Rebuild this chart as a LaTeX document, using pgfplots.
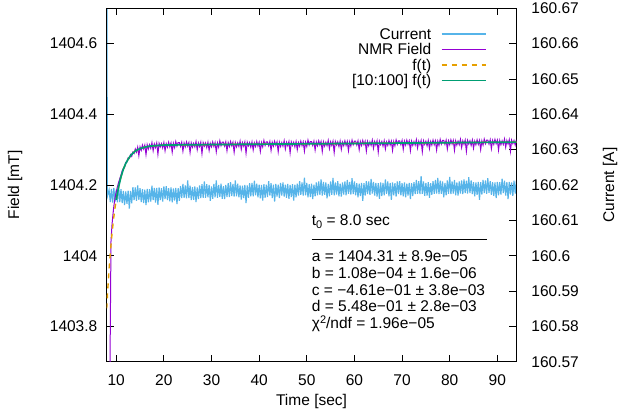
\documentclass[border=0pt]{standalone}
\usepackage{fontspec}
\setmainfont{Liberation Sans}
\usepackage{pgfplots}
\pgfplotsset{compat=1.18}

\definecolor{cur}{HTML}{56B4E9}
\definecolor{nmr}{HTML}{9400D3}
\definecolor{fitA}{HTML}{E69F00}
\definecolor{fitB}{HTML}{009E73}

\newcommand{\fs}{\fontsize{15.5}{18}\selectfont}

\pgfplotsset{
  common/.style={
    scale only axis, width=409.7pt, height=353.4pt,
    at={(106.7pt,52.3pt)}, anchor=south west,
    xmin=8, xmax=94,
    scaled x ticks=false, scaled y ticks=false,
    tick align=inside, major tick length=7pt,
    every tick/.style={black, line width=0.9pt},
    axis line style={line width=0.9pt, black},
    tick label style={font=\fs, inner sep=0pt, outer sep=0pt},
    label style={font=\fs, inner sep=0pt},
    /pgf/number format/assume math mode=true,
    /pgf/number format/1000 sep={},
  }
}

\begin{document}
\begin{tikzpicture}
% ---------- Current (right axis) ----------
\begin{axis}[common,
  hide x axis, axis y line*=right,
  y axis line style={-},
  ymin=160.57, ymax=160.67,
  y coord trafo/.code={\edef\pgfmathresult{\fpeval{#1-160.6}}},
  ytick={160.57,160.58,160.59,160.6,160.61,160.62,160.63,160.64,160.65,160.66,160.67},
  yticklabels={160.57,160.58,160.59,160.6,160.61,160.62,160.63,160.64,160.65,160.66,160.67},
  yticklabel style={anchor=west, xshift=15pt},
  ylabel={Current [A]},
  ylabel style={at={(axis description cs:1.2285,0.5)}, anchor=center},
]
\addplot[cur, line width=1.15pt] table {
t I
8.0 160.7000
8.15 160.6168
8.5 160.6186
8.75 160.6152
9.0 160.6189
9.25 160.6150
9.5 160.6192
9.75 160.6153
10.0 160.6187
10.25 160.6151
10.5 160.6197
10.75 160.6152
11.0 160.6188
11.25 160.6149
11.5 160.6183
11.75 160.6143
12.0 160.6182
12.25 160.6147
12.5 160.6184
12.75 160.6133
13.0 160.6183
13.25 160.6148
13.5 160.6194
13.75 160.6157
14.0 160.6193
14.25 160.6155
14.5 160.6199
14.75 160.6158
15.0 160.6191
15.25 160.6152
15.5 160.6188
15.75 160.6149
16.0 160.6187
16.25 160.6143
16.5 160.6189
16.75 160.6151
17.0 160.6188
17.25 160.6153
17.5 160.6198
17.75 160.6157
18.0 160.6192
18.25 160.6150
18.5 160.6192
18.75 160.6144
19.0 160.6193
19.25 160.6157
19.5 160.6191
19.75 160.6153
20.0 160.6196
20.25 160.6160
20.5 160.6197
20.75 160.6157
21.0 160.6191
21.25 160.6154
21.5 160.6193
21.75 160.6151
22.0 160.6190
22.25 160.6156
22.5 160.6192
22.75 160.6146
23.0 160.6191
23.25 160.6155
23.5 160.6197
23.75 160.6163
24.0 160.6203
24.25 160.6164
24.5 160.6199
24.75 160.6162
25.0 160.6213
25.25 160.6163
25.5 160.6198
25.75 160.6157
26.0 160.6194
26.25 160.6158
26.5 160.6196
26.75 160.6152
27.0 160.6193
27.25 160.6160
27.5 160.6199
27.75 160.6163
28.0 160.6202
28.25 160.6164
28.5 160.6210
28.75 160.6164
29.0 160.6202
29.25 160.6165
29.5 160.6200
29.75 160.6155
30.0 160.6196
30.25 160.6161
30.5 160.6203
30.75 160.6165
31.0 160.6213
31.25 160.6164
31.5 160.6200
31.75 160.6166
32.0 160.6204
32.25 160.6161
32.5 160.6197
32.75 160.6160
33.0 160.6200
33.25 160.6166
33.5 160.6205
33.75 160.6166
34.0 160.6208
34.25 160.6169
34.5 160.6203
34.75 160.6167
35.0 160.6213
35.25 160.6168
35.5 160.6204
35.75 160.6165
36.0 160.6199
36.25 160.6159
36.5 160.6198
36.75 160.6163
37.0 160.6200
37.25 160.6149
37.5 160.6199
37.75 160.6164
38.0 160.6205
38.25 160.6168
38.5 160.6206
38.75 160.6168
39.0 160.6212
39.25 160.6171
39.5 160.6204
39.75 160.6165
40.0 160.6201
40.25 160.6162
40.5 160.6200
40.75 160.6156
41.0 160.6202
41.25 160.6164
41.5 160.6201
41.75 160.6166
42.0 160.6211
42.25 160.6170
42.5 160.6205
42.75 160.6163
43.0 160.6201
43.25 160.6153
43.5 160.6203
43.75 160.6167
44.0 160.6201
44.25 160.6163
44.5 160.6206
44.75 160.6170
45.0 160.6207
45.25 160.6167
45.5 160.6201
45.75 160.6164
46.0 160.6203
46.25 160.6161
46.5 160.6200
46.75 160.6166
47.0 160.6202
47.25 160.6156
47.5 160.6201
47.75 160.6165
48.0 160.6204
48.25 160.6170
48.5 160.6211
48.75 160.6172
49.0 160.6207
49.25 160.6170
49.5 160.6221
49.75 160.6171
50.0 160.6206
50.25 160.6165
50.5 160.6202
50.75 160.6166
51.0 160.6204
51.25 160.6160
51.5 160.6201
51.75 160.6168
52.0 160.6207
52.25 160.6171
52.5 160.6210
52.75 160.6172
53.0 160.6216
53.25 160.6170
53.5 160.6209
53.75 160.6172
54.0 160.6207
54.25 160.6162
54.5 160.6203
54.75 160.6168
55.0 160.6210
55.25 160.6172
55.5 160.6220
55.75 160.6171
56.0 160.6207
56.25 160.6173
56.5 160.6211
56.75 160.6168
57.0 160.6204
57.25 160.6167
57.5 160.6207
57.75 160.6173
58.0 160.6210
58.25 160.6171
58.5 160.6214
58.75 160.6175
59.0 160.6209
59.25 160.6173
59.5 160.6219
59.75 160.6174
60.0 160.6210
60.25 160.6171
60.5 160.6205
60.75 160.6165
61.0 160.6204
61.25 160.6169
61.5 160.6206
61.75 160.6155
62.0 160.6205
62.25 160.6170
62.5 160.6211
62.75 160.6174
63.0 160.6210
63.25 160.6172
63.5 160.6217
63.75 160.6176
64.0 160.6209
64.25 160.6170
64.5 160.6206
64.75 160.6167
65.0 160.6205
65.25 160.6161
65.5 160.6207
65.75 160.6169
66.0 160.6206
66.25 160.6171
66.5 160.6216
66.75 160.6175
67.0 160.6210
67.25 160.6168
67.5 160.6206
67.75 160.6158
68.0 160.6207
68.25 160.6171
68.5 160.6205
68.75 160.6167
69.0 160.6210
69.25 160.6174
69.5 160.6211
69.75 160.6171
70.0 160.6205
70.25 160.6168
70.5 160.6207
70.75 160.6165
71.0 160.6204
71.25 160.6170
71.5 160.6206
71.75 160.6160
72.0 160.6205
72.25 160.6169
72.5 160.6208
72.75 160.6174
73.0 160.6214
73.25 160.6175
73.5 160.6211
73.75 160.6174
74.0 160.6225
74.25 160.6175
74.5 160.6210
74.75 160.6169
75.0 160.6206
75.25 160.6170
75.5 160.6208
75.75 160.6164
76.0 160.6205
76.25 160.6172
76.5 160.6211
76.75 160.6175
77.0 160.6214
77.25 160.6176
77.5 160.6220
77.75 160.6174
78.0 160.6212
78.25 160.6175
78.5 160.6210
78.75 160.6165
79.0 160.6206
79.25 160.6171
79.5 160.6213
79.75 160.6175
80.0 160.6223
80.25 160.6174
80.5 160.6210
80.75 160.6176
81.0 160.6214
81.25 160.6171
81.5 160.6207
81.75 160.6170
82.0 160.6210
82.25 160.6176
82.5 160.6213
82.75 160.6174
83.0 160.6216
83.25 160.6177
83.5 160.6212
83.75 160.6176
84.0 160.6222
84.25 160.6177
84.5 160.6213
84.75 160.6174
85.0 160.6208
85.25 160.6168
85.5 160.6207
85.75 160.6172
86.0 160.6209
86.25 160.6158
86.5 160.6208
86.75 160.6173
87.0 160.6214
87.25 160.6177
87.5 160.6213
87.75 160.6175
88.0 160.6219
88.25 160.6178
88.5 160.6211
88.75 160.6172
89.0 160.6208
89.25 160.6169
89.5 160.6207
89.75 160.6163
90.0 160.6209
90.25 160.6171
90.5 160.6208
90.75 160.6173
91.0 160.6218
91.25 160.6177
91.5 160.6212
91.75 160.6170
92.0 160.6208
92.25 160.6160
92.5 160.6209
92.75 160.6173
93.0 160.6207
93.25 160.6169
93.5 160.6212
93.75 160.6176
94.0 160.6213
};
\end{axis}

% ---------- Field (left axis) ----------
\begin{axis}[common,
  ymin=1403.7, ymax=1404.7,
  y coord trafo/.code={\edef\pgfmathresult{\fpeval{#1-1404}}},
  ytick={1403.8,1404,1404.2,1404.4,1404.6},
  yticklabels={1403.8,1404,1404.2,1404.4,1404.6},
  ytick pos=left,
  xtick={10,20,30,40,50,60,70,80,90},
  xticklabels={10,20,30,40,50,60,70,80,90},
  xtick pos=both, xticklabel pos=lower,
  xticklabel style={anchor=north, yshift=-12.8pt},
  yticklabel style={anchor=east, xshift=-9.4pt},
  xlabel={Time [sec]},
  xlabel style={at={(axis description cs:0.5,-0.1132)}, anchor=center},
  ylabel={Field [mT]},
  ylabel style={at={(axis description cs:-0.2238,0.5)}, anchor=center},
  legend style={at={(axis description cs:0.929,0.949)}, anchor=north east,
    draw=none, fill=none, inner sep=0pt, outer sep=0pt,
    row sep=0pt, column sep=9.4pt, font=\fs,
    nodes={inner sep=0pt, text height=13pt, text depth=2.5pt}},
  legend cell align=right,
  legend plot pos=right,
  legend image code/.code={\draw[#1] (0pt,0pt) -- (44.6pt,0pt);},
]
\addlegendimage{cur, line width=2pt}
\addlegendentry{Current}

\addplot[nmr, line width=1pt] table {
t B
8.5 1403.350
8.7 1403.700
8.9 1404.040
9.1 1404.085
9.3 1404.115
9.5 1404.140
9.75 1404.163
10.0 1404.180
10.25 1404.195
10.5 1404.207
10.75 1404.218
11.0 1404.228
11.25 1404.240
11.5 1404.247
11.75 1404.250
12.0 1404.264
12.25 1404.265
12.5 1404.277
12.75 1404.275
13.0 1404.286
13.25 1404.281
13.5 1404.293
13.75 1404.289
14.0 1404.302
14.25 1404.293
14.5 1404.307
14.75 1404.283
15.0 1404.308
15.25 1404.298
15.5 1404.313
15.75 1404.302
16.0 1404.313
16.25 1404.286
16.5 1404.314
16.75 1404.302
17.0 1404.314
17.25 1404.304
17.5 1404.320
17.75 1404.297
18.0 1404.316
18.25 1404.306
18.5 1404.319
18.75 1404.287
19.0 1404.318
19.25 1404.308
19.5 1404.317
19.75 1404.305
20.0 1404.320
20.25 1404.297
20.5 1404.317
20.75 1404.307
21.0 1404.321
21.25 1404.308
21.5 1404.319
21.75 1404.293
22.0 1404.318
22.25 1404.306
22.5 1404.323
22.75 1404.310
23.0 1404.320
23.25 1404.320
23.5 1404.309
23.75 1404.321
24.0 1404.296
24.25 1404.319
24.5 1404.308
24.75 1404.322
25.0 1404.310
25.25 1404.320
25.5 1404.292
25.75 1404.319
26.0 1404.307
26.25 1404.318
26.5 1404.308
26.75 1404.323
27.0 1404.300
27.25 1404.319
27.5 1404.309
27.75 1404.321
28.0 1404.289
28.25 1404.320
28.5 1404.310
28.75 1404.319
29.0 1404.306
29.25 1404.321
29.5 1404.298
29.75 1404.318
30.0 1404.308
30.25 1404.322
30.5 1404.309
30.75 1404.320
31.0 1404.294
31.25 1404.319
31.5 1404.307
31.75 1404.325
32.0 1404.311
32.25 1404.321
32.5 1404.321
32.75 1404.310
33.0 1404.322
33.25 1404.297
33.5 1404.320
33.75 1404.309
34.0 1404.323
34.25 1404.311
34.5 1404.321
34.75 1404.293
35.0 1404.320
35.25 1404.308
35.5 1404.319
35.75 1404.309
36.0 1404.324
36.25 1404.301
36.5 1404.320
36.75 1404.310
37.0 1404.322
37.25 1404.290
37.5 1404.321
37.75 1404.311
38.0 1404.320
38.25 1404.307
38.5 1404.322
38.75 1404.299
39.0 1404.319
39.25 1404.309
39.5 1404.323
39.75 1404.310
40.0 1404.321
40.25 1404.295
40.5 1404.320
40.75 1404.308
41.0 1404.326
41.25 1404.312
41.5 1404.322
41.75 1404.322
42.0 1404.311
42.25 1404.323
42.5 1404.298
42.75 1404.321
43.0 1404.310
43.25 1404.324
43.5 1404.312
43.75 1404.322
44.0 1404.294
44.25 1404.321
44.5 1404.309
44.75 1404.320
45.0 1404.310
45.25 1404.325
45.5 1404.302
45.75 1404.321
46.0 1404.311
46.25 1404.323
46.5 1404.291
46.75 1404.322
47.0 1404.312
47.25 1404.321
47.5 1404.308
47.75 1404.323
48.0 1404.300
48.25 1404.320
48.5 1404.310
48.75 1404.324
49.0 1404.311
49.25 1404.322
49.5 1404.296
49.75 1404.321
50.0 1404.309
50.25 1404.327
50.5 1404.313
50.75 1404.323
51.0 1404.323
51.25 1404.312
51.5 1404.324
51.75 1404.299
52.0 1404.322
52.25 1404.311
52.5 1404.325
52.75 1404.313
53.0 1404.323
53.25 1404.295
53.5 1404.322
53.75 1404.310
54.0 1404.321
54.25 1404.311
54.5 1404.326
54.75 1404.303
55.0 1404.322
55.25 1404.312
55.5 1404.324
55.75 1404.292
56.0 1404.323
56.25 1404.313
56.5 1404.322
56.75 1404.309
57.0 1404.324
57.25 1404.301
57.5 1404.321
57.75 1404.311
58.0 1404.325
58.25 1404.312
58.5 1404.323
58.75 1404.297
59.0 1404.322
59.25 1404.310
59.5 1404.327
59.75 1404.314
60.0 1404.324
60.25 1404.324
60.5 1404.313
60.75 1404.325
61.0 1404.300
61.25 1404.323
61.5 1404.312
61.75 1404.326
62.0 1404.314
62.25 1404.324
62.5 1404.296
62.75 1404.323
63.0 1404.311
63.25 1404.322
63.5 1404.312
63.75 1404.327
64.0 1404.304
64.25 1404.323
64.5 1404.313
64.75 1404.325
65.0 1404.293
65.25 1404.324
65.5 1404.314
65.75 1404.323
66.0 1404.310
66.25 1404.325
66.5 1404.302
66.75 1404.322
67.0 1404.312
67.25 1404.326
67.5 1404.313
67.75 1404.324
68.0 1404.298
68.25 1404.323
68.5 1404.311
68.75 1404.328
69.0 1404.315
69.25 1404.325
69.5 1404.325
69.75 1404.314
70.0 1404.326
70.25 1404.301
70.5 1404.324
70.75 1404.313
71.0 1404.327
71.25 1404.315
71.5 1404.325
71.75 1404.297
72.0 1404.324
72.25 1404.312
72.5 1404.323
72.75 1404.313
73.0 1404.328
73.25 1404.305
73.5 1404.324
73.75 1404.314
74.0 1404.326
74.25 1404.294
74.5 1404.325
74.75 1404.315
75.0 1404.324
75.25 1404.311
75.5 1404.326
75.75 1404.303
76.0 1404.323
76.25 1404.313
76.5 1404.327
76.75 1404.314
77.0 1404.325
77.25 1404.299
77.5 1404.324
77.75 1404.312
78.0 1404.329
78.25 1404.316
78.5 1404.326
78.75 1404.326
79.0 1404.315
79.25 1404.327
79.5 1404.302
79.75 1404.325
80.0 1404.314
80.25 1404.328
80.5 1404.316
80.75 1404.326
81.0 1404.298
81.25 1404.325
81.5 1404.313
81.75 1404.324
82.0 1404.314
82.25 1404.329
82.5 1404.306
82.75 1404.325
83.0 1404.315
83.25 1404.327
83.5 1404.295
83.75 1404.326
84.0 1404.316
84.25 1404.325
84.5 1404.312
84.75 1404.327
85.0 1404.304
85.25 1404.324
85.5 1404.314
85.75 1404.328
86.0 1404.315
86.25 1404.326
86.5 1404.300
86.75 1404.325
87.0 1404.313
87.25 1404.330
87.5 1404.317
87.75 1404.327
88.0 1404.327
88.25 1404.316
88.5 1404.328
88.75 1404.303
89.0 1404.326
89.25 1404.315
89.5 1404.329
89.75 1404.317
90.0 1404.327
90.25 1404.299
90.5 1404.326
90.75 1404.314
91.0 1404.325
91.25 1404.315
91.5 1404.330
91.75 1404.307
92.0 1404.326
92.25 1404.316
92.5 1404.328
92.75 1404.296
93.0 1404.327
93.25 1404.317
93.5 1404.326
93.75 1404.313
94.0 1404.328
};
\addlegendentry{NMR Field}

\addplot[fitA, line width=1.4pt, dash pattern=on 5pt off 5pt] table {
t f
8.0 1403.851
8.25 1403.910
8.5 1403.962
8.75 1404.006
9.0 1404.046
9.25 1404.080
9.5 1404.110
9.75 1404.136
10.0 1404.158
10.5 1404.195
11.0 1404.223
11.5 1404.245
12.0 1404.261
12.5 1404.273
13.0 1404.283
13.5 1404.290
14.0 1404.296
15.0 1404.303
16.0 1404.307
17.0 1404.310
18.0 1404.311
19.0 1404.312
20.0 1404.313
25.0 1404.3138
30.0 1404.3144
40.0 1404.3155
50.0 1404.3165
60.0 1404.3176
70.0 1404.3187
80.0 1404.3198
90.0 1404.3209
94.0 1404.3213
};
\addlegendentry{f(t)}

\addplot[fitB, line width=1.7pt] table {
t f
10.0 1404.158
10.5 1404.195
11.0 1404.223
11.5 1404.245
12.0 1404.261
12.5 1404.273
13.0 1404.283
13.5 1404.290
14.0 1404.296
15.0 1404.303
16.0 1404.307
17.0 1404.310
18.0 1404.311
19.0 1404.312
20.0 1404.313
25.0 1404.3138
30.0 1404.3144
40.0 1404.3155
50.0 1404.3165
60.0 1404.3176
70.0 1404.3187
80.0 1404.3198
90.0 1404.3209
94.0 1404.3213
};
\addlegendentry{\relax[10:100] f(t)}

% ---------- fit result box ----------
\node[anchor=base west, font=\fs, inner sep=0pt] at (axis description cs:0.5004,0.3868)
  {t\raisebox{-3.3pt}{\fontsize{11}{11}\selectfont 0} = 8.0 sec};
\draw[line width=0.9pt] (axis description cs:0.5004,0.3472) -- (axis description cs:0.9275,0.3472);
\node[anchor=base west, font=\fs, inner sep=0pt] at (axis description cs:0.5004,0.2830) {a = 1404.31 ± 8.9e−05};
\node[anchor=base west, font=\fs, inner sep=0pt] at (axis description cs:0.5004,0.2360) {b = 1.08e−04 ± 1.6e−06};
\node[anchor=base west, font=\fs, inner sep=0pt] at (axis description cs:0.5004,0.1887) {c = −4.61e−01 ± 3.8e−03};
\node[anchor=base west, font=\fs, inner sep=0pt] at (axis description cs:0.5004,0.1415) {d = 5.48e−01 ± 2.8e−03};
\node[anchor=base west, font=\fs, inner sep=0pt] at (axis description cs:0.5004,0.0934)
  {χ\raisebox{5pt}{\fontsize{11}{11}\selectfont 2}/ndf = 1.96e−05};
\end{axis}

\pgfresetboundingbox
\path[use as bounding box] (0pt,0pt) rectangle (621pt,414pt);
\end{tikzpicture}
\end{document}
